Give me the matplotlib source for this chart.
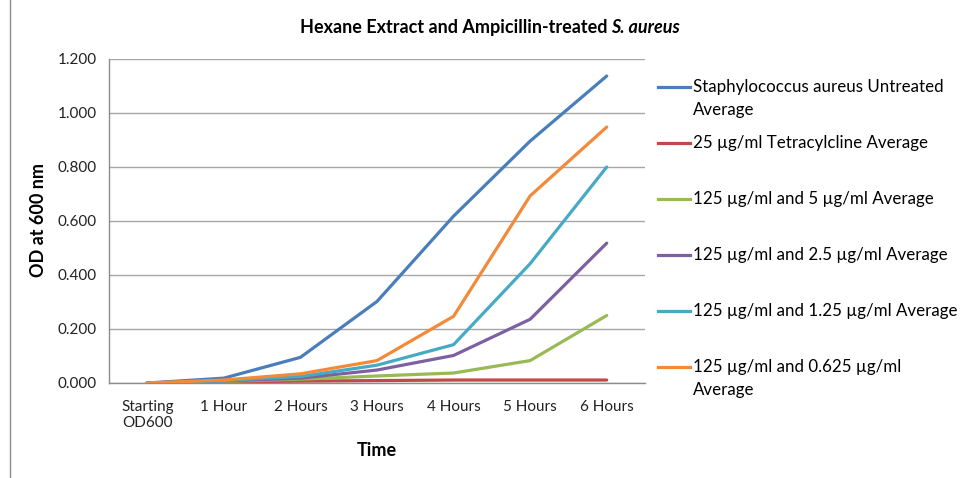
import matplotlib
matplotlib.use("Agg")
import matplotlib.pyplot as plt
from matplotlib.lines import Line2D

plt.rcParams['font.family'] = ['Lato', 'DejaVu Sans']

# --- data ---
categories = ["Starting\nOD600", "1 Hour", "2 Hours", "3 Hours", "4 Hours", "5 Hours", "6 Hours"]
untreated = [0.000, 0.018, 0.095, 0.302, 0.618, 0.896, 1.137]
tetracycline = [0.000, 0.004, 0.007, 0.009, 0.011, 0.011, 0.011]
ext_5 = [0.000, 0.006, 0.014, 0.026, 0.037, 0.083, 0.250]
ext_2_5 = [0.000, 0.008, 0.018, 0.048, 0.102, 0.236, 0.518]
ext_1_25 = [0.000, 0.009, 0.024, 0.066, 0.142, 0.442, 0.800]
ext_0_625 = [0.000, 0.011, 0.034, 0.083, 0.247, 0.693, 0.948]

labels = [
    "Staphylococcus aureus Untreated\nAverage",
    "25 \u00b5g/ml Tetracylcline Average",
    "125 \u00b5g/ml and 5 \u00b5g/ml Average",
    "125 \u00b5g/ml and 2.5 \u00b5g/ml Average",
    "125 \u00b5g/ml and 1.25 \u00b5g/ml Average",
    "125 \u00b5g/ml and 0.625 \u00b5g/ml\nAverage",
]
series = [untreated, tetracycline, ext_5, ext_2_5, ext_1_25, ext_0_625]
colors = ["#4A7EBB", "#BE4B48", "#98B954", "#7D60A0", "#46AAC5", "#F28A3A"]

W, H = 964, 478
fig = plt.figure(figsize=(W / 100, H / 100), dpi=100)
ax = fig.add_axes([109 / W, 1 - 383 / H, (645 - 109) / W, (383 - 59) / H])

x = list(range(len(categories)))
for ys, c in zip(series, colors):
    ax.plot(x, ys, color=c, lw=2.3, solid_capstyle='round', zorder=3)

ax.set_xlim(-0.5, len(categories) - 0.5)
ax.set_ylim(0, 1.2)
yt = [0, 0.2, 0.4, 0.6, 0.8, 1.0, 1.2]
ax.set_yticks(yt)
ax.set_yticklabels([f"{v:.3f}" for v in yt])
ax.set_xticks(x)
ax.set_xticklabels(categories, linespacing=1.25)
ax.tick_params(axis='both', length=0, labelsize=11, colors='#222222')
ax.tick_params(axis='x', pad=12)
ax.tick_params(axis='y', pad=9)
ax.grid(axis='y', color='#a6a6a6', lw=1.0, zorder=0)
for s in ['top', 'right']:
    ax.spines[s].set_visible(False)
for s in ['left', 'bottom']:
    ax.spines[s].set_color('#8c8c8c')
    ax.spines[s].set_linewidth(1.0)

fig.text(38 / W, 1 - 220 / H, "OD at 600 nm", rotation=90, fontsize=13,
         fontweight='bold', ha='center', va='center')
fig.text(377 / W, 1 - 451 / H, "Time", fontsize=13, fontweight='bold',
         ha='center', va='center')

# title: bold with italic species name, sharing one baseline
renderer = fig.canvas.get_renderer()
base = 1 - 33 / H
t1 = fig.text(0, base, "Hexane Extract and Ampicillin-treated", fontsize=13,
              fontweight='bold', ha='left', va='baseline')
t2 = fig.text(0, base, "S. aureus", fontsize=13, fontweight='bold',
              fontstyle='italic', ha='left', va='baseline')
w1 = t1.get_window_extent(renderer).width
w2 = t2.get_window_extent(renderer).width
gap = 4
x0 = 490 - (w1 + gap + w2) / 2
t1.set_x(x0 / W)
t2.set_x((x0 + w1 + gap) / W)

# legend, drawn by hand so the handle sits on the first text line
row_y = [87, 143, 199, 255, 311, 367]
for lab, c, yy in zip(labels, colors, row_y):
    fig.add_artist(Line2D([658 / W, 690 / W], [1 - yy / H, 1 - yy / H],
                          color=c, lw=2.3, transform=fig.transFigure))
    for i, line in enumerate(lab.split("\n")):
        fig.text(693 / W, 1 - (yy + 23 * i) / H, line, fontsize=12.2,
                 ha='left', va='center')

# chart area border on the left
fig.add_artist(Line2D([10 / W, 10 / W], [0, 1], color='#8c8c8c', lw=1.0,
                      transform=fig.transFigure))

fig.savefig("out.png", dpi=100)
